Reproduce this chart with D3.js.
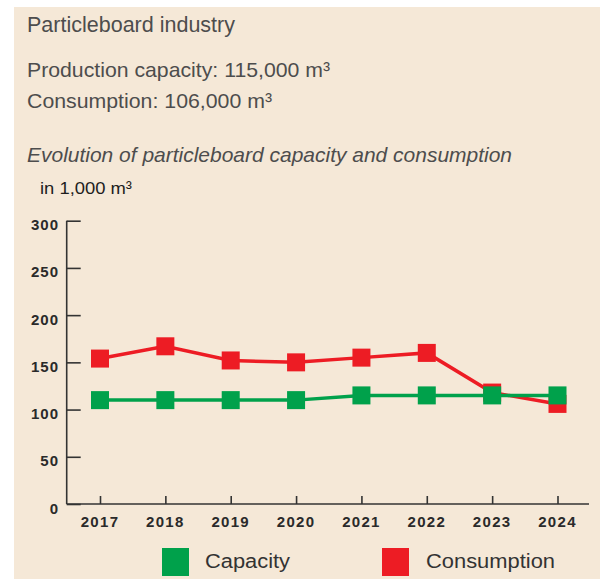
<!DOCTYPE html>
<html>
<head>
<meta charset="utf-8">
<script src="https://cdn.jsdelivr.net/npm/d3@7"></script>
<style>
  body { margin: 0; background: #fff; }
  svg { display: block; font-family: "Liberation Sans", Arial, sans-serif; }
</style>
</head>
<body>
<svg id="chart" width="600" height="579"></svg>
<script>
const years = [2017, 2018, 2019, 2020, 2021, 2022, 2023, 2024];
const capacity = [110, 110, 110, 110, 115, 115, 115, 115];
const consumption = [154, 167, 152, 150, 155, 160, 118, 106];
const yTicks = [0, 50, 100, 150, 200, 250, 300];

const w = 600, h = 579;
const svg = d3.select("#chart");

// beige panel
svg.append("rect")
  .attr("x", 14).attr("y", 7)
  .attr("width", w - 14).attr("height", h - 7)
  .attr("fill", "#f5e8d7");

// header texts
const headLines = [
  { t: "Particleboard industry", y: 32, size: 21.5, len: 208 },
  { t: "Production capacity: 115,000 m³", y: 77, size: 21, len: 303 },
  { t: "Consumption: 106,000 m³", y: 108, size: 21, len: 245 },
  { t: "Evolution of particleboard capacity and consumption", y: 162, size: 21, len: 485, italic: true },
];
svg.append("g").selectAll("text").data(headLines).join("text")
  .attr("x", 27).attr("y", d => d.y)
  .attr("font-size", d => d.size)
  .attr("font-style", d => d.italic ? "italic" : null)
  .attr("textLength", d => d.len).attr("lengthAdjust", "spacingAndGlyphs")
  .attr("fill", "#4d4d4d")
  .text(d => d.t);
svg.append("text").attr("x", 40).attr("y", 194).attr("font-size", 17)
  .attr("textLength", 92).attr("lengthAdjust", "spacingAndGlyphs")
  .attr("fill", "#1e1e1e")
  .text("in 1,000 m³");

// scales
const x = d3.scalePoint().domain(years).range([100, 557.5]);
const y = d3.scaleLinear().domain([0, 300]).range([504, 220.7]);

const axisColor = "#333";

// y axis (ticks pointing inward)
const yAxis = svg.append("g")
  .attr("transform", "translate(66.7,0)")
  .call(d3.axisRight(y).tickValues(yTicks).tickSize(14).tickFormat(""));
yAxis.select(".domain").remove();
yAxis.selectAll("line").attr("stroke", axisColor).attr("stroke-width", 1.6);
svg.append("line")
  .attr("x1", 66.7).attr("x2", 66.7).attr("y1", y(300)).attr("y2", y(0))
  .attr("stroke", axisColor).attr("stroke-width", 1.6);
svg.append("g").selectAll("text").data(yTicks).join("text")
  .attr("x", 59).attr("y", d => y(d) + 9.5)
  .attr("text-anchor", "end")
  .attr("font-size", 15).attr("font-weight", "bold")
  .attr("letter-spacing", 1)
  .attr("fill", "#2a2a2a")
  .text(d => d);

// x axis (ticks pointing up)
const xAxis = svg.append("g")
  .attr("transform", "translate(0," + y(0) + ")")
  .call(d3.axisTop(x).tickSize(8).tickFormat(""));
xAxis.select(".domain").remove();
xAxis.selectAll("line").attr("stroke", axisColor).attr("stroke-width", 1.6);
svg.append("line")
  .attr("x1", 66.7).attr("x2", 589).attr("y1", y(0)).attr("y2", y(0))
  .attr("stroke", axisColor).attr("stroke-width", 1.6);
svg.append("g").selectAll("text").data(years).join("text")
  .attr("x", d => x(d)).attr("y", 527)
  .attr("text-anchor", "middle")
  .attr("font-size", 15).attr("font-weight", "bold")
  .attr("letter-spacing", 1.3)
  .attr("fill", "#2a2a2a")
  .text(d => d);

// series
const series = [
  { name: "Consumption", values: consumption, color: "#ed1c24" },
  { name: "Capacity", values: capacity, color: "#00a14b" },
];
const line = d3.line().x((d, i) => x(years[i])).y(d => y(d));
const ms = 18;

series.forEach(s => {
  const g = svg.append("g");
  g.append("path")
    .attr("d", line(s.values))
    .attr("fill", "none")
    .attr("stroke", s.color)
    .attr("stroke-width", 3.5);
  g.selectAll("rect").data(s.values).join("rect")
    .attr("x", (d, i) => x(years[i]) - ms / 2)
    .attr("y", d => y(d) - ms / 2)
    .attr("width", ms).attr("height", ms)
    .attr("fill", s.color);
});

// legend
const legend = [
  { name: "Capacity", color: "#00a14b", x: 162, tx: 205, len: 85 },
  { name: "Consumption", color: "#ed1c24", x: 382, tx: 426, len: 129 },
];
const lg = svg.append("g").selectAll("g").data(legend).join("g");
lg.append("rect")
  .attr("x", d => d.x).attr("y", 548)
  .attr("width", 27).attr("height", 28)
  .attr("fill", d => d.color);
lg.append("text")
  .attr("x", d => d.tx).attr("y", 568)
  .attr("font-size", 20).attr("fill", "#333")
  .attr("textLength", d => d.len).attr("lengthAdjust", "spacingAndGlyphs")
  .text(d => d.name);
</script>
</body>
</html>
